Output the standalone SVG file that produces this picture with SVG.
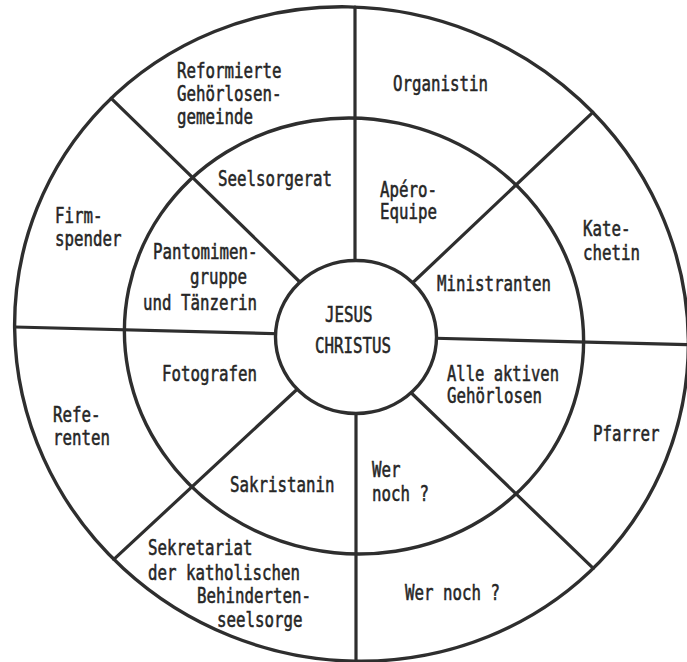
<svg xmlns="http://www.w3.org/2000/svg" width="687" height="662" viewBox="0 0 687 662">
<style>
.ring{fill:none;stroke:#2e2e2e;stroke-width:3.4}
.hub{fill:#ffffff;stroke:#2e2e2e;stroke-width:3.4}
.spoke{fill:none;stroke:#2e2e2e;stroke-width:3.2;stroke-linecap:round}
text{font-family:"DejaVu Sans Mono","Liberation Mono",monospace;font-size:21px;fill:#262626;stroke:#262626;stroke-width:0.55}
</style>
<rect width="687" height="662" fill="#ffffff"/>
<g id="rings">
<ellipse class="ring" cx="351.5" cy="334" rx="338.7" ry="325.3" transform="rotate(21.8 351.5 334)"/>
<ellipse class="ring" cx="354" cy="336" rx="230.1" ry="217.5" transform="rotate(11.8 354 336)"/>
</g>
<g id="connectors">
<line class="spoke" x1="355" y1="7" x2="355" y2="275"/>
<line class="spoke" x1="592.8" y1="112.3" x2="405" y2="290"/>
<line class="spoke" x1="425" y1="338" x2="698" y2="345"/>
<line class="spoke" x1="402" y1="384" x2="593.3" y2="568.3"/>
<line class="spoke" x1="356" y1="400" x2="356" y2="661"/>
<line class="spoke" x1="305" y1="382" x2="113.8" y2="559.3"/>
<line class="spoke" x1="14.7" y1="327" x2="288" y2="334"/>
<line class="spoke" x1="111.2" y1="98.3" x2="306" y2="288"/>
</g>
<g id="center">
<ellipse class="hub" cx="356" cy="337" rx="80.5" ry="76.5"/>
<text x="325" y="322" textLength="47.5" lengthAdjust="spacingAndGlyphs">JESUS</text>
<text x="315" y="353" textLength="76" lengthAdjust="spacingAndGlyphs">CHRISTUS</text>
</g>
<g id="reformierte"><text x="177" y="78" textLength="104.5" lengthAdjust="spacingAndGlyphs">Reformierte</text><text x="177" y="101" textLength="104.5" lengthAdjust="spacingAndGlyphs">Gehörlosen-</text><text x="177" y="124" textLength="76" lengthAdjust="spacingAndGlyphs">gemeinde</text></g>
<g id="organistin"><text x="393" y="91" textLength="95" lengthAdjust="spacingAndGlyphs">Organistin</text></g>
<g id="firmspender"><text x="55" y="223" textLength="47.5" lengthAdjust="spacingAndGlyphs">Firm-</text><text x="55" y="246" textLength="66.5" lengthAdjust="spacingAndGlyphs">spender</text></g>
<g id="katechetin"><text x="583" y="236" textLength="47.5" lengthAdjust="spacingAndGlyphs">Kate-</text><text x="583" y="260" textLength="57" lengthAdjust="spacingAndGlyphs">chetin</text></g>
<g id="pfarrer"><text x="593" y="441" textLength="66.5" lengthAdjust="spacingAndGlyphs">Pfarrer</text></g>
<g id="wer-noch-outer"><text x="405" y="600" textLength="95" lengthAdjust="spacingAndGlyphs">Wer noch ?</text></g>
<g id="referenten"><text x="53" y="422" textLength="47.5" lengthAdjust="spacingAndGlyphs">Refe-</text><text x="53" y="445" textLength="57" lengthAdjust="spacingAndGlyphs">renten</text></g>
<g id="sekretariat"><text x="148" y="555" textLength="104.5" lengthAdjust="spacingAndGlyphs">Sekretariat</text><text x="148" y="580" textLength="152" lengthAdjust="spacingAndGlyphs">der katholischen</text><text x="197" y="603" textLength="114" lengthAdjust="spacingAndGlyphs">Behinderten-</text><text x="217" y="627" textLength="85.5" lengthAdjust="spacingAndGlyphs">seelsorge</text></g>
<g id="seelsorgerat"><text x="218" y="186" textLength="114" lengthAdjust="spacingAndGlyphs">Seelsorgerat</text></g>
<g id="apero"><text x="380" y="197" textLength="57" lengthAdjust="spacingAndGlyphs">Apéro-</text><text x="380" y="219" textLength="57" lengthAdjust="spacingAndGlyphs">Equipe</text></g>
<g id="ministranten"><text x="437" y="291" textLength="114" lengthAdjust="spacingAndGlyphs">Ministranten</text></g>
<g id="pantomimen"><text x="153" y="259" textLength="104.5" lengthAdjust="spacingAndGlyphs">Pantomimen-</text><text x="190" y="284" textLength="57" lengthAdjust="spacingAndGlyphs">gruppe</text><text x="143" y="310" textLength="114" lengthAdjust="spacingAndGlyphs">und Tänzerin</text></g>
<g id="alle-aktiven"><text x="447" y="381" textLength="112" lengthAdjust="spacingAndGlyphs">Alle aktiven</text><text x="447" y="403" textLength="95" lengthAdjust="spacingAndGlyphs">Gehörlosen</text></g>
<g id="fotografen"><text x="162" y="381" textLength="95" lengthAdjust="spacingAndGlyphs">Fotografen</text></g>
<g id="sakristanin"><text x="230" y="492" textLength="104.5" lengthAdjust="spacingAndGlyphs">Sakristanin</text></g>
<g id="wer-noch-inner"><text x="372" y="477" textLength="28.5" lengthAdjust="spacingAndGlyphs">Wer</text><text x="372" y="501" textLength="57" lengthAdjust="spacingAndGlyphs">noch ?</text></g>
</svg>
